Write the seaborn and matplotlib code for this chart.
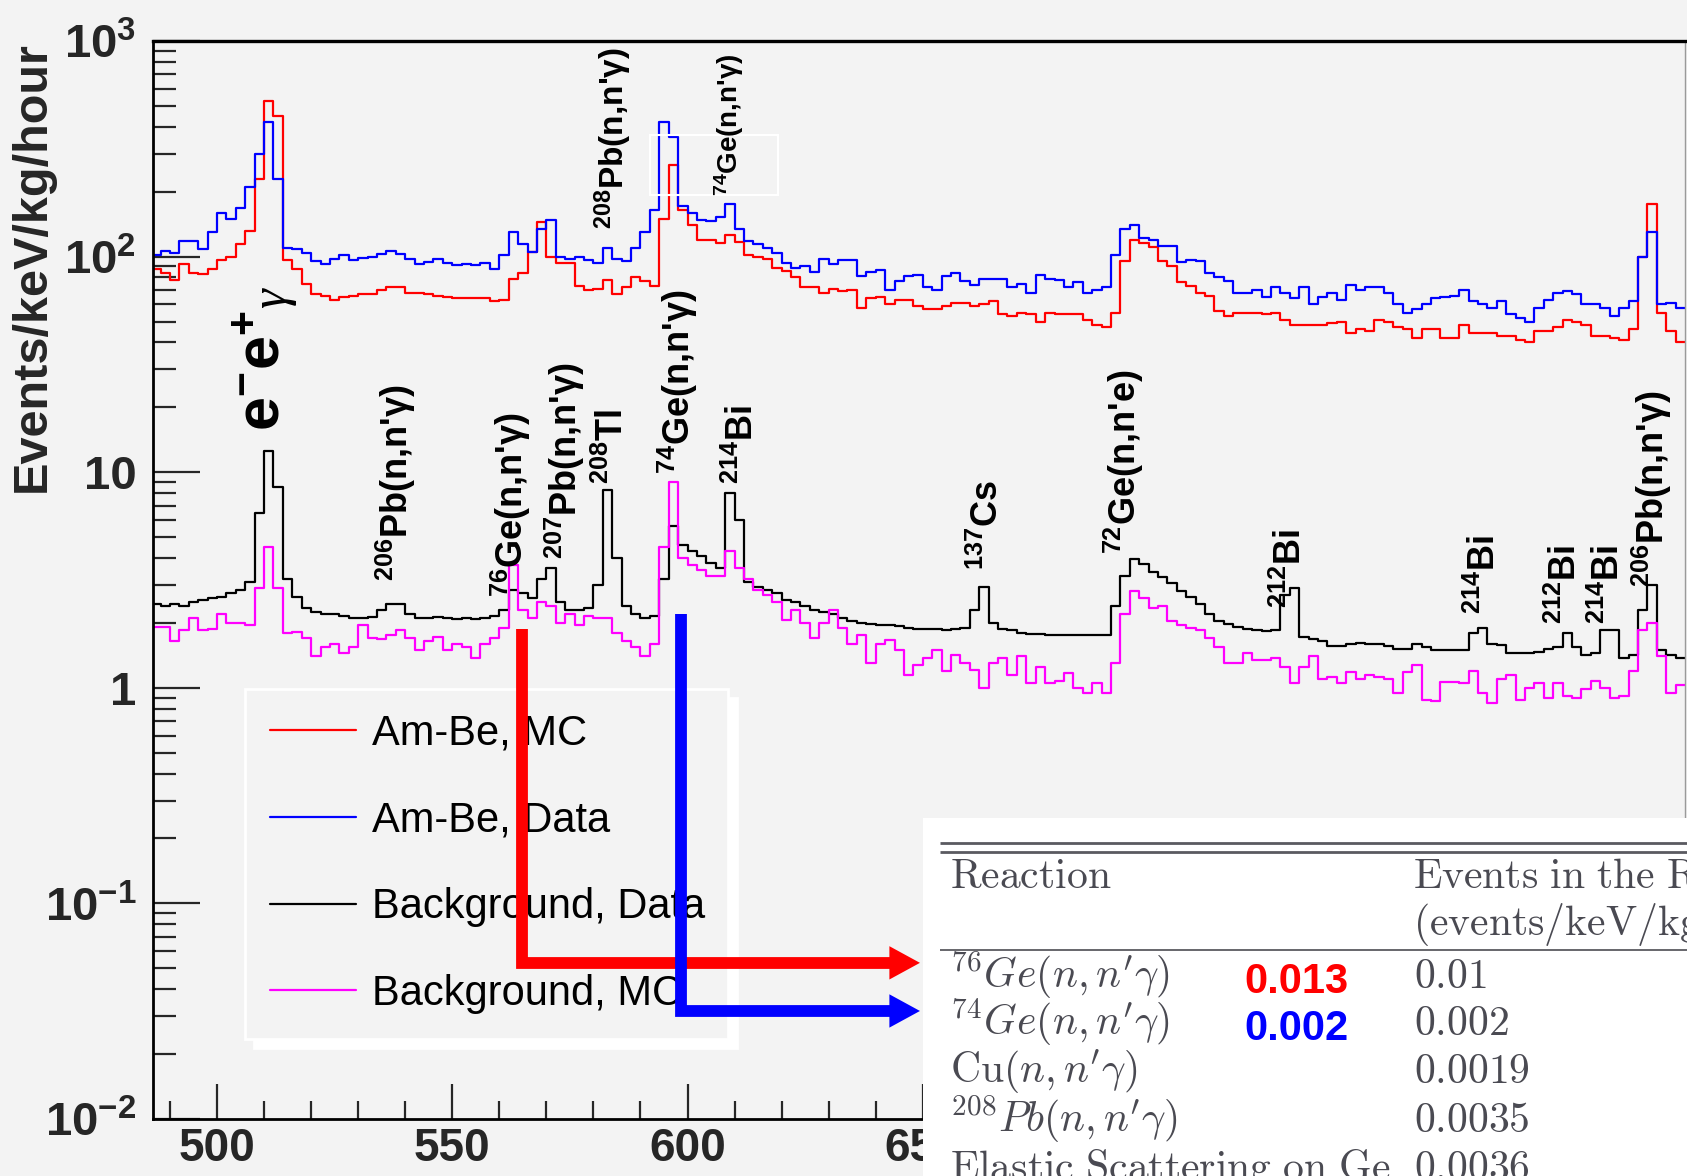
"""
Am-Be calibration vs. background gamma spectra (486-812 keV),
with the reaction-rate table pasted over the lower right corner.
"""

import numpy as np
import pandas as pd
import matplotlib
matplotlib.use("Agg")
import matplotlib.pyplot as plt
import seaborn as sns
from matplotlib.lines import Line2D
from matplotlib.patches import Rectangle
from matplotlib.ticker import LogLocator, NullFormatter

W, H = 1687, 1176
BG = "#f3f3f3"
INK = "#4a4a52"

# ─────────────────────────────────────────────
# Spectra (2 keV bins, events/keV/kg/hour)
# ─────────────────────────────────────────────
E_LO, E_HI, E_STEP = 486, 812, 2

ambe_mc = [
    88, 84, 78, 92, 84, 83, 88, 96, 100, 115,
    132, 230, 525, 450, 96, 88, 75, 67, 66, 63,
    65, 66, 67, 67, 70, 72, 72, 68, 68, 67,
    66, 65, 64, 64, 64, 64, 62, 63, 79, 84,
    105, 145, 100, 93, 93, 73, 70, 71, 78, 67,
    72, 80, 77, 73, 150, 265, 165, 140, 119, 119,
    116, 126, 117, 102, 100, 97, 89, 86, 80, 72,
    72, 68, 71, 69, 70, 58, 64, 65, 60, 63,
    63, 59, 57, 57, 59, 61, 61, 59, 60, 62,
    54, 53, 55, 54, 50, 55, 54, 54, 54, 51,
    48, 47, 55, 95, 119, 116, 111, 95, 90, 76,
    73, 68, 66, 56, 53, 55, 55, 55, 54, 55,
    51, 48, 48, 48, 48, 49, 50, 44, 46, 45,
    51, 50, 47, 46, 42, 46, 46, 42, 42, 48,
    44, 44, 44, 43, 43, 41, 40, 45, 45, 47,
    51, 50, 48, 43, 43, 42, 41, 46, 100, 175,
    55, 45, 40,
]

ambe_data = [
    102, 106, 104, 118, 118, 108, 130, 160, 150, 168,
    210, 300, 420, 230, 110, 108, 104, 95, 92, 97,
    102, 96, 99, 100, 103, 106, 103, 97, 92, 94,
    97, 93, 91, 92, 91, 93, 88, 102, 130, 115,
    105, 135, 148, 100, 97, 100, 96, 93, 110, 97,
    95, 110, 130, 165, 420, 360, 172, 159, 148, 146,
    152, 175, 135, 118, 115, 110, 104, 93, 89, 90,
    85, 97, 92, 96, 96, 81, 85, 87, 70, 77,
    81, 82, 72, 70, 81, 84, 77, 74, 79, 79,
    79, 72, 75, 68, 82, 79, 78, 72, 76, 68,
    70, 72, 102, 135, 140, 122, 120, 112, 112, 94,
    96, 95, 84, 80, 77, 68, 68, 70, 65, 72,
    68, 64, 72, 60, 65, 68, 63, 74, 70, 72,
    72, 68, 60, 55, 57, 60, 64, 65, 66, 70,
    62, 60, 58, 62, 54, 52, 50, 58, 63, 68,
    69, 67, 60, 60, 58, 53, 58, 62, 100, 130,
    60, 61, 58,
]

bg_data = [
    2.45, 2.4, 2.45, 2.4, 2.5, 2.55, 2.6, 2.65, 2.75, 2.85,
    3.1, 6.5, 12.5, 8.5, 3.2, 2.65, 2.35, 2.25, 2.2, 2.2,
    2.15, 2.1, 2.1, 2.12, 2.3, 2.45, 2.45, 2.2, 2.1, 2.1,
    2.12, 2.1, 2.08, 2.1, 2.08, 2.1, 2.15, 2.3, 2.85, 2.75,
    2.6, 3.2, 3.6, 2.5, 2.3, 2.3, 2.35, 3.0, 8.3, 4.0,
    2.4, 2.2, 2.1, 2.15, 3.2, 5.6, 4.6, 4.3, 4.1, 3.8,
    3.6, 8.0, 6.0, 3.1, 2.94, 2.85, 2.75, 2.55, 2.5, 2.4,
    2.3, 2.25, 2.2, 2.1, 2.05, 2.0, 1.97, 1.95, 1.95, 1.93,
    1.9, 1.88, 1.88, 1.87, 1.85, 1.88, 1.9, 2.3, 2.95, 2.0,
    1.87, 1.85, 1.8, 1.78, 1.77, 1.76, 1.75, 1.75, 1.75, 1.75,
    1.75, 1.76, 2.4, 3.3, 3.95, 3.75, 3.45, 3.27, 3.05, 2.8,
    2.65, 2.45, 2.2, 2.05, 1.97, 1.92, 1.88, 1.85, 1.83, 1.85,
    2.7, 2.9, 1.72, 1.68, 1.65, 1.57, 1.57, 1.6, 1.62, 1.6,
    1.6, 1.57, 1.52, 1.52, 1.6, 1.55, 1.5, 1.5, 1.5, 1.5,
    1.8, 1.9, 1.6, 1.58, 1.45, 1.45, 1.45, 1.46, 1.52, 1.55,
    1.8, 1.55, 1.42, 1.45, 1.85, 1.85, 1.38, 1.42, 2.3, 3.0,
    1.5, 1.42, 1.38,
]

bg_mc = [
    1.92, 1.92, 1.65, 1.85, 2.1, 1.85, 1.88, 2.2, 2.0, 2.0,
    1.95, 2.9, 4.5, 2.9, 1.8, 1.82, 1.7, 1.4, 1.55, 1.6,
    1.45, 1.55, 1.95, 1.7, 1.68, 1.75, 1.85, 1.7, 1.5, 1.65,
    1.72, 1.5, 1.6, 1.55, 1.38, 1.6, 1.7, 1.9, 3.7, 2.3,
    2.1, 2.5, 2.4, 2.0, 2.2, 1.95, 2.15, 2.1, 2.1, 1.8,
    1.65, 1.55, 1.4, 1.6, 4.5, 9.0, 4.0, 3.7, 3.5, 3.3,
    3.3, 4.3, 3.6, 3.2, 2.84, 2.7, 2.5, 2.06, 2.3, 2.0,
    1.7, 2.0, 2.3, 1.9, 1.6, 1.75, 1.3, 1.6, 1.67, 1.5,
    1.15, 1.28, 1.38, 1.5, 1.2, 1.42, 1.3, 1.21, 1.0, 1.3,
    1.38, 1.15, 1.4, 1.05, 1.25, 1.05, 1.08, 1.17, 1.0, 0.95,
    1.05, 0.95, 1.3, 2.2, 2.8, 2.6, 2.35, 2.4, 2.05, 1.95,
    1.9, 1.85, 1.7, 1.55, 1.3, 1.3, 1.45, 1.35, 1.35, 1.38,
    1.25, 1.05, 1.25, 1.4, 1.1, 1.12, 1.05, 1.18, 1.1, 1.15,
    1.12, 1.1, 0.95, 1.18, 1.28, 0.88, 0.87, 1.06, 1.06, 1.05,
    1.2, 0.95, 0.85, 1.1, 1.15, 0.88, 1.0, 1.05, 0.9, 1.05,
    0.92, 0.9, 0.99, 1.08, 1.0, 0.9, 0.92, 1.2, 1.85, 2.0,
    1.4, 0.95, 1.03,
]

SERIES_NAMES  = ["Am-Be, MC", "Am-Be, Data", "Background, Data", "Background, MC"]
SERIES_COLORS = ["#ff0000", "#0000ff", "#000000", "#ff00ff"]

# peak labels: text, energy (keV), bottom of label (events/keV/kg/hour), size
peak_labels = [
    (r"$^{206}$Pb(n,n'γ)", 538.0, 3.13, 26),
    (r"$^{76}$Ge(n,n'γ)", 562.5, 2.63, 26),
    (r"$^{207}$Pb(n,n'γ)", 573.9, 3.94, 26),
    (r"$^{208}$Tl", 584.2, 8.8, 26),
    (r"$^{74}$Ge(n,n'γ)", 597.9, 9.86, 26),
    (r"$^{214}$Bi", 611.7, 8.8, 26),
    (r"$^{137}$Cs", 663.8, 3.51, 26),
    (r"$^{72}$Ge(n,n'e)", 692.8, 4.17, 26),
    (r"$^{212}$Bi", 728.3, 2.34, 26),
    (r"$^{214}$Bi", 769.5, 2.21, 26),
    (r"$^{212}$Bi", 786.6, 1.97, 26),
    (r"$^{214}$Bi", 795.8, 1.97, 26),
    (r"$^{206}$Pb(n,n'γ)", 804.9, 2.95, 26),
    (r"$^{208}$Pb(n,n'γ)", 584.2, 135, 24),
    (r"$^{74}$Ge(n,n'γ)", 608.9, 191, 20),
]

# table pasted in the corner
table_reactions = [
    r"$^{76}\mathit{Ge}(\mathit{n},\mathit{n}'\gamma)$",
    r"$^{74}\mathit{Ge}(\mathit{n},\mathit{n}'\gamma)$",
    r"$\mathrm{Cu}(\mathit{n},\mathit{n}'\gamma)$",
    r"$^{208}\mathit{Pb}(\mathit{n},\mathit{n}'\gamma)$",
    r"$\mathrm{Elastic\ Scattering\ on\ Ge}$",
]
table_rates = ["0.01", "0.002", "0.0019", "0.0035", "0.0036"]
our_rates   = ["0.013", "0.002"]
our_colors  = ["#ff0000", "#0000ff"]

# pointer arrows: energy, top, turn level
arrows = [(564.8, 1.88, 0.0530, "#ff0000"), (598.7, 2.21, 0.0317, "#0000ff")]
ARROW_TIP = 649.4


# ─────────────────────────────────────────────
# Style
# ─────────────────────────────────────────────
sns.set_theme(style="ticks")
plt.rcParams["font.family"] = ["Liberation Sans", "DejaVu Sans"]
plt.rcParams.update({
    "mathtext.fontset": "custom",
    "mathtext.rm": "Liberation Sans:bold",
    "mathtext.it": "Liberation Sans:bold",
    "mathtext.bf": "Liberation Sans:bold",
    "mathtext.sf": "Liberation Sans:bold",
    "mathtext.default": "rm",
    "axes.edgecolor": "black",
    "text.color": "black",
})

centers = np.arange(E_LO, E_HI, E_STEP) + E_STEP / 2
spectra = pd.DataFrame({
    "E": np.tile(centers, 4),
    "rate": ambe_mc + ambe_data + bg_data + bg_mc,
    "series": np.repeat(SERIES_NAMES, len(centers)),
})

fig = plt.figure(figsize=(W / 100, H / 100), dpi=100, facecolor=BG)
ax = fig.add_axes([153 / W, 57 / H, 1532 / W, 1078 / H])
ax.set_facecolor(BG)

for name, col in zip(SERIES_NAMES, SERIES_COLORS):
    sns.histplot(data=spectra[spectra["series"] == name], x="E", weights="rate",
                 binwidth=E_STEP, binrange=(E_LO, E_HI), element="step",
                 fill=False, color=col, linewidth=1.6, ax=ax)

ax.set_yscale("log")
ax.set_xlim(486.4, 812.0)
ax.set_ylim(1e-2, 1e3)
ax.set_xlabel("")
ax.set_ylabel("Events/keV/kg/hour", fontsize=35, fontweight="bold", loc="top")
ax.yaxis.set_label_coords(-0.064, 1.0)

# ticks, ROOT-ish: inward, long
ax.set_xticks([500, 550, 600, 650, 700, 750, 800])
ax.set_xticks(np.arange(490, 811, 10), minor=True)
ax.set_yticks([1e-2, 1e-1, 1, 10, 1e2, 1e3],
              labels=[r"$10^{-2}$", r"$10^{-1}$", "1", "10", r"$10^{2}$", r"$10^{3}$"])
ax.yaxis.set_minor_locator(LogLocator(base=10, subs=np.arange(2, 10), numticks=20))
ax.yaxis.set_minor_formatter(NullFormatter())
ax.tick_params(axis="x", which="major", direction="in", length=25, width=1.6,
               labelsize=33, pad=6)
ax.tick_params(axis="x", which="minor", direction="in", length=13, width=1.6)
ax.tick_params(axis="y", which="major", direction="in", length=34, width=1.6,
               labelsize=34, pad=12)
ax.tick_params(axis="y", which="minor", direction="in", length=16.5, width=1.6)
for lab in ax.get_xticklabels() + ax.get_yticklabels():
    lab.set_fontweight("bold")

for side in ["left", "bottom"]:
    ax.spines[side].set_linewidth(2)
ax.spines["top"].set_linewidth(2.4)
ax.spines["right"].set_color("#9a9a9a")
ax.spines["right"].set_linewidth(1)

# peak labels
for txt, x, y, size in peak_labels:
    ax.text(x, y, txt, rotation=90, ha="center", va="bottom",
            fontsize=size, fontweight="bold", zorder=6)
ax.text(509.9, 15.6, "e$^{-}$e$^{+}$", rotation=90, ha="center", va="bottom",
        fontsize=44, fontweight="bold", zorder=6)
ax.text(511.8, 64.3, "γ", rotation=90, ha="center", va="center",
        fontsize=36, family="Liberation Serif", style="italic", zorder=6)
ax.add_patch(Rectangle((592.1, 193), 27.1, 173, fill=False,
                       edgecolor="white", lw=1.5, zorder=4))

# legend
handles = [Line2D([], [], color=c, lw=1.6) for c in SERIES_COLORS]
leg = ax.legend(handles, SERIES_NAMES, loc="upper left",
                bbox_to_anchor=(0.0601, 0.0779, 0.3152, 0.321), mode="expand",
                fontsize=30, frameon=True, fancybox=False, borderpad=0.6,
                labelspacing=1.12, handlelength=2.06, handletextpad=0.39,
                borderaxespad=0,
                shadow={"ox": 6.5, "oy": -6.5, "facecolor": "white",
                        "edgecolor": "white", "alpha": 1})
leg.get_frame().set_facecolor(BG)
leg.get_frame().set_edgecolor("white")
leg.get_frame().set_linewidth(2)
leg.set_zorder(7)

# pointer arrows to the table
for x, y_top, y_turn, col in arrows:
    ax.plot([x, x, ARROW_TIP - 4], [y_top, y_turn, y_turn], color=col, lw=8.5,
            solid_joinstyle="miter", solid_capstyle="butt", zorder=10)
    ax.annotate("", xy=(ARROW_TIP, y_turn), xytext=(ARROW_TIP - 8, y_turn),
                arrowprops=dict(arrowstyle="-|>,head_length=2.2,head_width=1.2",
                                color=col, lw=0, mutation_scale=10,
                                shrinkA=0, shrinkB=0),
                zorder=10)

# ─────────────────────────────────────────────
# Table image (pixel coordinates of the canvas)
# ─────────────────────────────────────────────
tab = fig.add_axes([923 / W, 0, (W - 923) / W, 358 / H])
tab.set_facecolor("white")
tab.set_xlim(923, W)
tab.set_ylim(H, 818)
tab.set_xticks([])
tab.set_yticks([])
for s in tab.spines.values():
    s.set_visible(False)

tab.hlines([843, 852], 940, W, color="#5a5a60", lw=2)
tab.hlines(950, 940, W, color="#5a5a60", lw=1.3)

cm = dict(math_fontfamily="cm", color=INK, fontsize=30, ha="left", va="baseline")
tab.text(950, 888, r"$\mathrm{Reaction}$", **cm)
tab.text(1413, 888, r"$\mathrm{Events\ in\ the\ ROI}$", **cm)
tab.text(1413, 935, r"$\mathrm{(events/keV/kg/day)}$", **cm)

row_base = [988, 1035, 1083, 1132, 1180]
for base, reac, rate in zip(row_base, table_reactions, table_rates):
    tab.text(950, base, reac, **cm)
    tab.text(1414, base, r"$\mathrm{%s}$" % rate, **cm)

for base, rate, col in zip(row_base, our_rates, our_colors):
    tab.text(1244, base + 5, rate, color=col, fontsize=30, fontweight="bold",
             ha="left", va="baseline")

fig.savefig("out.png", dpi=100, facecolor=BG)
